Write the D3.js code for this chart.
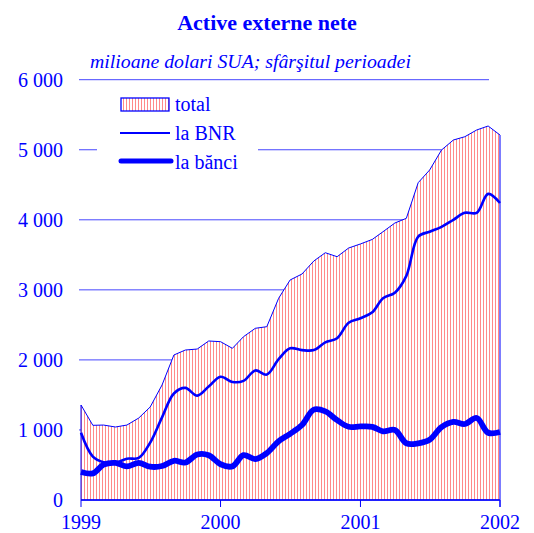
<!DOCTYPE html>
<html>
<head>
<meta charset="utf-8">
<script src="https://cdn.jsdelivr.net/npm/d3@7"></script>
<style>
  body { margin: 0; background: #fff; }
  svg { display: block; }
  text { font-family: "Liberation Serif", "Times New Roman", serif; fill: #0000ff; }
</style>
</head>
<body>
<div id="chart"></div>
<script>
// end-of-month observations, Dec 1998 .. Dec 2001
const months = [
  "1998-12",
  "1999-01", "1999-02", "1999-03", "1999-04", "1999-05", "1999-06",
  "1999-07", "1999-08", "1999-09", "1999-10", "1999-11", "1999-12",
  "2000-01", "2000-02", "2000-03", "2000-04", "2000-05", "2000-06",
  "2000-07", "2000-08", "2000-09", "2000-10", "2000-11", "2000-12",
  "2001-01", "2001-02", "2001-03", "2001-04", "2001-05", "2001-06",
  "2001-07", "2001-08", "2001-09", "2001-10", "2001-11", "2001-12"
];

// total (hatched area)
const total = [
  1356, 1066, 1070, 1042, 1070, 1170, 1328, 1642, 2070, 2141, 2155, 2270,
  2260, 2165, 2331, 2451, 2474, 2880, 3141, 3226, 3412, 3530, 3473, 3597,
  3655, 3720, 3830, 3954, 4021, 4530, 4711, 4996, 5139, 5186, 5282, 5339,
  5210
];

// la BNR
const bnr = [
  961, 620, 540, 530, 590, 600, 820, 1180, 1520, 1600, 1490, 1620,
  1760, 1685, 1700, 1850, 1790, 2010, 2165, 2140, 2140, 2250, 2310, 2530,
  2595, 2680, 2880, 2960, 3200, 3760, 3830, 3900, 4000, 4100, 4100, 4370,
  4240
];

// la bănci
const banci = [
  400, 380, 505, 530, 480, 530, 475, 485, 560, 535, 650, 640,
  510, 480, 640, 585, 670, 840, 945, 1070, 1290, 1265, 1140, 1045,
  1050, 1045, 980, 1000, 810, 810, 860, 1040, 1115, 1085, 1170, 960,
  970
];

const yTicks = [0, 1000, 2000, 3000, 4000, 5000, 6000];
const xTickYears = [1999, 2000, 2001, 2002];
const legendLabels = ["total", "la BNR", "la bănci"];

const width = 534, height = 533;
const margin = { top: 79.7, right: 34, bottom: 33, left: 81 };
const blue = "#0000ff";

const svg = d3.select("#chart").append("svg")
  .attr("width", width)
  .attr("height", height);

const parse = d3.timeParse("%Y-%m");
// end of month -> first day of the following month
const dates = months.map(m => d3.timeMonth.offset(parse(m), 1));

const x = d3.scaleTime()
  .domain([new Date(1999, 0, 1), new Date(2002, 0, 1)])
  .range([margin.left, width - margin.right]);

const y = d3.scaleLinear()
  .domain([0, 6000])
  .range([height - margin.bottom, margin.top]);

// hatch pattern: thin red vertical lines
const defs = svg.append("defs");
const pat = defs.append("pattern")
  .attr("id", "hatch")
  .attr("patternUnits", "userSpaceOnUse")
  .attr("width", 3)
  .attr("height", 12);
pat.append("rect").attr("width", 3).attr("height", 12).attr("fill", "#fff");
pat.append("rect")
  .attr("x", 0).attr("y", 0).attr("width", 1).attr("height", 12)
  .attr("fill", "#ff8a8a");

// gridlines + y labels
svg.append("g")
  .selectAll("line")
  .data(yTicks.filter(d => d > 0))
  .join("line")
  .attr("x1", 79).attr("x2", 489)
  .attr("y1", d => y(d)).attr("y2", d => y(d))
  .attr("stroke", "#4646ff").attr("stroke-width", 1);

svg.append("g")
  .selectAll("text")
  .data(yTicks)
  .join("text")
  .attr("x", 63)
  .attr("y", d => y(d))
  .attr("dy", "0.35em")
  .attr("text-anchor", "end")
  .style("font-size", "20px")
  .text(d => d3.format(",")(d).replace(",", " "));

// total area: white underlay hides the gridlines, hatch on top
const area = d3.area()
  .x((d, i) => x(dates[i]))
  .y0(y(0))
  .y1(d => y(d));

svg.append("path")
  .datum(total)
  .attr("d", area)
  .attr("fill", "#fff");

svg.append("path")
  .datum(total)
  .attr("d", area)
  .attr("fill", "url(#hatch)")
  .attr("stroke", blue)
  .attr("stroke-width", 1);

// right edge of the area
svg.append("line")
  .attr("x1", x(dates[dates.length - 1])).attr("x2", x(dates[dates.length - 1]))
  .attr("y1", y(total[total.length - 1])).attr("y2", y(0) + 7)
  .attr("stroke", "#7c7cff").attr("stroke-width", 2);

const line = d3.line()
  .x((d, i) => x(dates[i]))
  .y(d => y(d))
  .curve(d3.curveCatmullRom);

svg.append("path")
  .datum(bnr)
  .attr("d", line)
  .attr("fill", "none")
  .attr("stroke", blue)
  .attr("stroke-width", 2.6);

svg.append("path")
  .datum(banci)
  .attr("d", line)
  .attr("fill", "none")
  .attr("stroke", blue)
  .attr("stroke-width", 5.8)
  .attr("stroke-linejoin", "round");

// x axis
const xAxis = svg.append("g");
xAxis.append("line")
  .attr("x1", x.range()[0]).attr("x2", x.range()[1])
  .attr("y1", y(0)).attr("y2", y(0))
  .attr("stroke", blue).attr("stroke-width", 1.3);

xAxis.selectAll(".tick")
  .data(xTickYears)
  .join("line")
  .attr("x1", d => x(new Date(d, 0, 1))).attr("x2", d => x(new Date(d, 0, 1)))
  .attr("y1", y(0)).attr("y2", y(0) + 7)
  .attr("stroke", blue).attr("stroke-width", 1);

xAxis.selectAll("text")
  .data(xTickYears)
  .join("text")
  .attr("x", d => x(new Date(d, 0, 1)))
  .attr("y", 529)
  .attr("text-anchor", "middle")
  .style("font-size", "20px")
  .text(d => d);

// title & subtitle
svg.append("text")
  .attr("x", 267).attr("y", 30)
  .attr("text-anchor", "middle")
  .style("font-size", "22px")
  .style("font-weight", "bold")
  .text("Active externe nete");

svg.append("text")
  .attr("x", 90).attr("y", 68)
  .style("font-size", "19.8px")
  .style("font-style", "italic")
  .text("milioane dolari SUA; sfârşitul perioadei");

// legend
const legend = svg.append("g");
legend.append("rect")
  .attr("x", 97).attr("y", 88).attr("width", 161).attr("height", 86)
  .attr("fill", "#fff");

legend.append("rect")
  .attr("x", 121).attr("y", 98).attr("width", 48).attr("height", 13)
  .attr("fill", "url(#hatch)")
  .attr("stroke", blue).attr("stroke-width", 1.3);

legend.append("line")
  .attr("x1", 120).attr("x2", 170).attr("y1", 133).attr("y2", 133)
  .attr("stroke", blue).attr("stroke-width", 2.2);

legend.append("line")
  .attr("x1", 121).attr("x2", 171).attr("y1", 161).attr("y2", 161)
  .attr("stroke", blue).attr("stroke-width", 5)
  .attr("stroke-linecap", "round");

legend.selectAll("text")
  .data(legendLabels)
  .join("text")
  .attr("x", 175)
  .attr("y", (d, i) => 111 + i * 29)
  .style("font-size", "20px")
  .text(d => d);
</script>
</body>
</html>
